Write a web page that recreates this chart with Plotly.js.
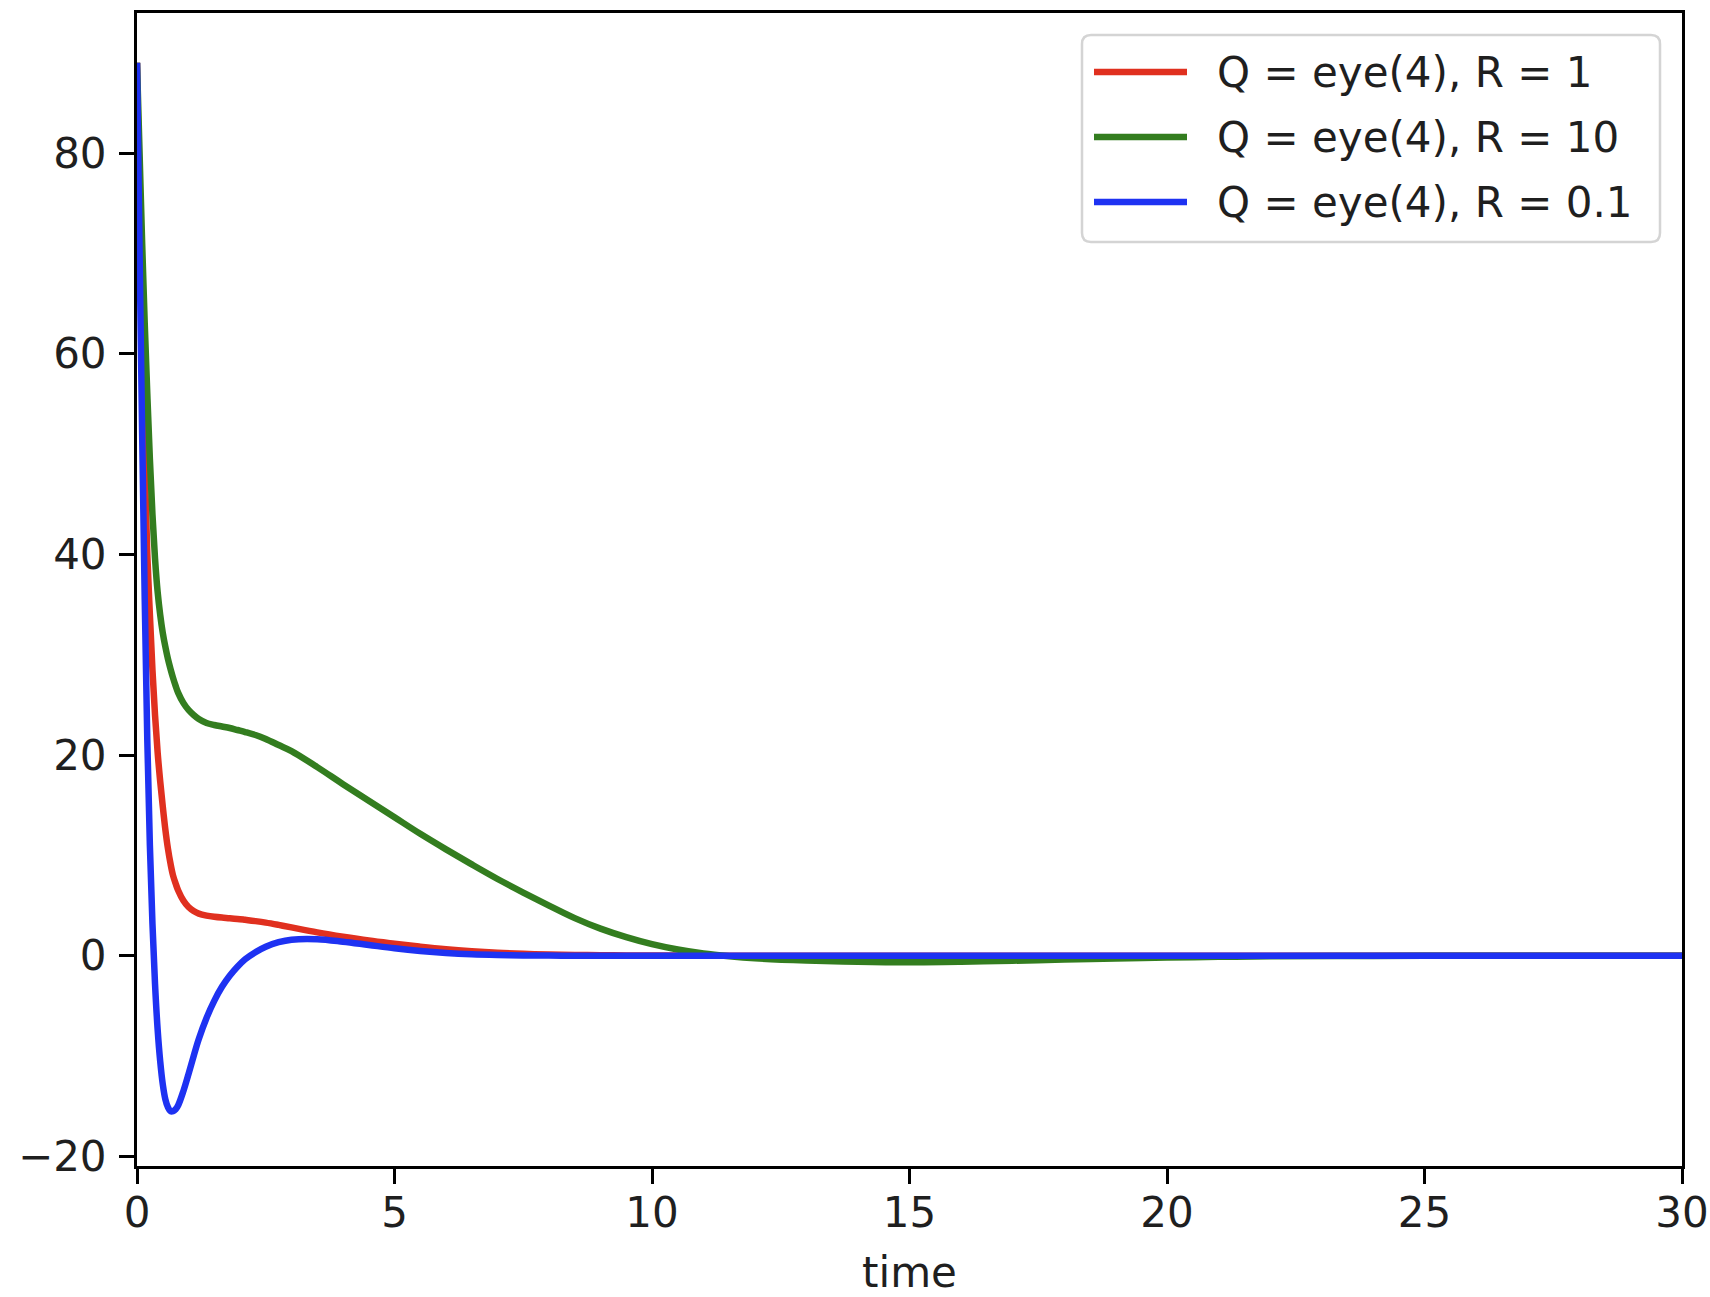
<!DOCTYPE html>
<html>
<head>
<meta charset="utf-8">
<script src="https://cdn.plot.ly/plotly-3.0.1.min.js"></script>
<style>
  html, body { margin: 0; padding: 0; background: #ffffff; }
  #chart { width: 1710px; height: 1297px; }
</style>
</head>
<body>
<div id="chart"></div>
<script>
// Closed-loop response of the LQR-controlled system for three input weights R.
const time = [0, 0.05, 0.1, 0.15, 0.2, 0.25, 0.3, 0.35, 0.4, 0.45, 0.5, 0.55, 0.6, 0.65, 0.7, 0.75, 0.8,
              0.9, 1.0, 1.1, 1.2,
              1.35, 1.5, 1.65, 1.8, 1.95, 2.1,
              2.3, 2.5, 2.75, 3.0,
              3.5, 4.0, 4.5, 5.0, 5.5, 6.0, 6.5, 7.0, 7.5, 8.0,
              8.5, 9.0, 9.5, 10, 10.5, 11, 11.5, 12,
              13, 14, 15, 16, 17, 18, 19, 20, 21, 22,
              24, 26, 28, 30];

// R = 1
const responseR1 = [89, 73, 60, 49, 40, 34, 28.5, 24, 20.3, 17.4, 14.9, 12.6, 10.7, 9.2, 8.0, 7.2, 6.5,
                    5.5, 4.85, 4.45, 4.2,
                    4.0, 3.88, 3.8, 3.74, 3.67, 3.58,
                    3.45, 3.3, 3.07, 2.82,
                    2.33, 1.9, 1.52, 1.2, 0.9, 0.64, 0.44, 0.29, 0.19, 0.12,
                    0.08, 0.05, 0.03, 0.02, 0.01, 0.01, 0, 0,
                    0, 0, 0, 0, 0, 0, 0, 0, 0, 0,
                    0, 0, 0, 0];

// R = 10
const responseR10 = [89, 80, 71, 63, 56, 49.5, 44, 39.6, 36.3, 34.0, 32.2, 30.8, 29.6, 28.6, 27.7, 26.9, 26.2,
                     25.2, 24.5, 24.0, 23.6,
                     23.2, 23.0, 22.85, 22.7, 22.5, 22.3,
                     22.0, 21.6, 21.0, 20.4,
                     18.8, 17.1, 15.45, 13.8, 12.15, 10.6, 9.1, 7.65, 6.3, 5.0,
                     3.75, 2.7, 1.85, 1.15, 0.62, 0.22, -0.05, -0.25,
                     -0.47, -0.6, -0.65, -0.6, -0.5, -0.38, -0.27, -0.18, -0.11, -0.06,
                     -0.02, 0, 0, 0];

// R = 0.1
const responseR01 = [89, 70, 52, 35.5, 21.5, 11, 3.2, -2.8, -7.3, -10.5, -12.8, -14.3, -15.1, -15.5, -15.5, -15.3, -14.9,
                     -13.5, -11.8, -10.0, -8.3,
                     -6.2, -4.5, -3.1, -2.0, -1.1, -0.35,
                     0.35, 0.9, 1.35, 1.6,
                     1.65, 1.4, 1.07, 0.74, 0.47, 0.27, 0.14, 0.07, 0.03, 0.01,
                     0, 0, 0, 0, 0, 0, 0, 0,
                     0, 0, 0, 0, 0, 0, 0, 0, 0, 0,
                     0, 0, 0, 0];

const seriesNames = ['Q = eye(4), R = 1', 'Q = eye(4), R = 10', 'Q = eye(4), R = 0.1'];
const seriesValues = [responseR1, responseR10, responseR01];
const seriesColors = ['#e0301f', '#337d1f', '#1e32f2'];

const xTicks = [0, 5, 10, 15, 20, 25, 30];
const yTicks = [-20, 0, 20, 40, 60, 80];

const FONT = 'DejaVu Sans, sans-serif';
const TEXT_COLOR = '#1f1f1f';
const FONT_SIZE = 42;
const LINE_WIDTH = 6.5;

const traces = seriesValues.map((vals, i) => ({
  type: 'scatter',
  mode: 'lines',
  x: time,
  y: vals,
  name: seriesNames[i],
  line: { color: seriesColors[i], width: LINE_WIDTH, shape: 'spline', smoothing: 1.0 },
  hoverinfo: 'x+y+name'
}));

// Legend box in the upper right corner, positioned in pixels from the plot's top-right corner.
const box = { left: -600, right: -22, top: -22, bottom: -229, r: 9 };
const roundedRect =
  `M ${box.left + box.r},${box.top} L ${box.right - box.r},${box.top} ` +
  `Q ${box.right},${box.top} ${box.right},${box.top - box.r} ` +
  `L ${box.right},${box.bottom + box.r} ` +
  `Q ${box.right},${box.bottom} ${box.right - box.r},${box.bottom} ` +
  `L ${box.left + box.r},${box.bottom} ` +
  `Q ${box.left},${box.bottom} ${box.left},${box.bottom + box.r} ` +
  `L ${box.left},${box.top - box.r} ` +
  `Q ${box.left},${box.top} ${box.left + box.r},${box.top} Z`;

const shapes = [{
  type: 'path',
  xref: 'paper', yref: 'paper',
  xsizemode: 'pixel', ysizemode: 'pixel',
  xanchor: 1, yanchor: 1,
  path: roundedRect,
  fillcolor: 'rgba(255,255,255,0.8)',
  line: { color: '#d4d4d4', width: 2.5 },
  layer: 'above'
}];
const annotations = [];

const rowOffset = i => -(59 + i * 65);
seriesNames.forEach((name, i) => {
  shapes.push({
    type: 'line',
    xref: 'paper', yref: 'paper',
    xsizemode: 'pixel', ysizemode: 'pixel',
    xanchor: 1, yanchor: 1,
    x0: -588, x1: -495,
    y0: rowOffset(i), y1: rowOffset(i),
    line: { color: seriesColors[i], width: LINE_WIDTH },
    layer: 'above'
  });
  annotations.push({
    xref: 'paper', yref: 'paper',
    x: 1, y: 1,
    xanchor: 'left', yanchor: 'middle',
    xshift: -467, yshift: rowOffset(i),
    text: name,
    showarrow: false,
    font: { family: FONT, size: FONT_SIZE, color: TEXT_COLOR }
  });
});

const axisCommon = {
  showgrid: false,
  zeroline: false,
  showline: true,
  linecolor: '#000000',
  linewidth: 3,
  mirror: true,
  ticks: 'outside',
  ticklen: 15,
  tickwidth: 3,
  tickcolor: '#000000',
  tickfont: { family: FONT, size: FONT_SIZE, color: TEXT_COLOR }
};

const layout = {
  width: 1710,
  height: 1297,
  margin: { l: 137, r: 28, t: 13, b: 131, pad: 0 },
  paper_bgcolor: '#ffffff',
  plot_bgcolor: '#ffffff',
  showlegend: false,
  font: { family: FONT, size: FONT_SIZE, color: TEXT_COLOR },
  xaxis: Object.assign({}, axisCommon, {
    range: [0, 30],
    tickmode: 'array',
    tickvals: xTicks,
    ticktext: xTicks.map(String),
    ticklabelstandoff: -7,
    title: { text: 'time', font: { family: FONT, size: FONT_SIZE, color: TEXT_COLOR }, standoff: 44 },
    automargin: false
  }),
  yaxis: Object.assign({}, axisCommon, {
    range: [-20.96, 93.97],
    tickmode: 'array',
    tickvals: yTicks,
    ticklabelstandoff: 4,
    automargin: false
  }),
  shapes: shapes,
  annotations: annotations
};

Plotly.newPlot('chart', traces, layout, { displayModeBar: false, staticPlot: true });
</script>
</body>
</html>
